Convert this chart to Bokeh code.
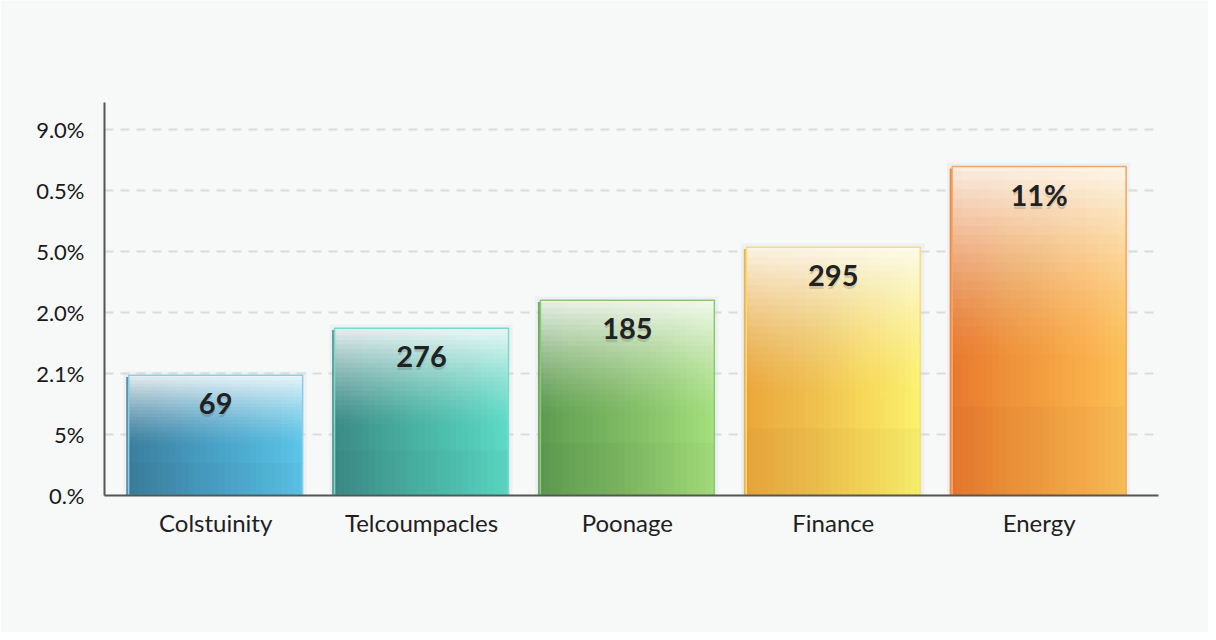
from bokeh.plotting import figure
from bokeh.models import Range1d, FixedTicker, ColumnDataSource
from bokeh.core.properties import value
from bokeh.embed import file_html
from bokeh.resources import INLINE

# ---- data ----
categories = ["Colstuinity", "Telcoumpacles", "Poonage", "Finance", "Energy"]
values = [1.97, 2.74, 3.20, 4.07, 5.39]
bar_labels = ["69", "276", "185", "295", "11%"]
y_ticks = [0, 1, 2, 3, 4, 5, 6]
y_tick_labels = ["0.%", "5%", "2.1%", "2.0%", "5.0%", "0.5%", "9.0%"]

# gradient colours per bar: (left/dark, right/light)
left_colors = ["#3b7d9c", "#3b8a84", "#5c9a50", "#eba53a", "#e8772e"]
right_colors = ["#5cc6ea", "#5edcc6", "#a6e07e", "#fbf36e", "#fcc257"]
edge_colors = ["#8ccde6", "#7ed8cc", "#8cc872", "#f7dc78", "#f5a860"]

BG = "#f7f8f8"
BAR_W = 0.845


def stacked_alphas(targets):
    """alphas for stacked layers so that the cumulative coverage follows targets"""
    out, prev = [], 0.0
    for f in targets:
        if f <= prev:
            out.append(0.0)
            continue
        out.append((f - prev) / (1.0 - prev))
        prev = f
    return out


p = figure(width=1208, height=632, output_backend="svg", toolbar_location=None,
           x_range=Range1d(-0.54, 4.58), y_range=Range1d(0, 6.44),
           min_border_left=104, min_border_right=50, min_border_top=102,
           min_border_bottom=137)
p.background_fill_color = BG
p.border_fill_color = BG
p.outline_line_color = None

# grid
p.xgrid.grid_line_color = None
p.ygrid.grid_line_color = "#dadada"
p.ygrid.grid_line_width = 2
p.ygrid.grid_line_dash = "9 7"
p.ygrid.ticker = FixedTicker(ticks=y_ticks[1:])

NX = 28
NY = 36
for i, v in enumerate(values):
    x0 = i - BAR_W / 2
    x1 = x0 + BAR_W
    # soft glow / shadow
    p.quad(left=[x0 - 0.025], right=[x1 + 0.02], bottom=[0], top=[v + 0.06],
           fill_color="#d5dcdf", fill_alpha=0.25, line_color=None)
    # base: left colour
    p.quad(left=[x0], right=[x1], bottom=[0], top=[v],
           fill_color=left_colors[i], line_color=None)
    # horizontal gradient: stacked layers of the right colour
    tx = [(k / NX) ** 0.85 for k in range(1, NX + 1)]
    ax = stacked_alphas(tx)
    lefts = [x0 + BAR_W * (k - 0.5) / NX for k in range(1, NX + 1)]
    p.quad(left=lefts, right=[x1] * NX, bottom=[0] * NX, top=[v] * NX,
           fill_color=right_colors[i], fill_alpha=ax, line_color=None)
    # subtle darker lower band
    p.quad(left=[x0], right=[x1], bottom=[0], top=[v * 0.27],
           fill_color="#000000", fill_alpha=0.025, line_color=None)
    # vertical whitening: stacked white layers from each level to the top
    ty = []
    for k in range(1, NY + 1):
        t = k / NY
        ty.append(0.0 if t < 0.4 else 0.88 * ((t - 0.4) / 0.6) ** 1.3)
    ay = stacked_alphas(ty)
    bots = [v * (k - 0.5) / NY for k in range(1, NY + 1)]
    p.quad(left=[x0] * NY, right=[x1] * NY, bottom=bots, top=[v] * NY,
           fill_color="#ffffff", fill_alpha=ay, line_color=None)
    # left edge (3D side)
    p.quad(left=[x0 - 0.012], right=[x0], bottom=[0], top=[v - 0.03],
           fill_color=left_colors[i], fill_alpha=0.85, line_color=None)
    # outline
    p.quad(left=[x0], right=[x1], bottom=[0], top=[v],
           fill_color=None, line_color=edge_colors[i], line_width=1.5)

# value labels
src = ColumnDataSource(dict(x=list(range(len(values))), y=values, t=bar_labels))
p.text(x="x", y="y", text="t", source=src, y_offset=31, text_align="center",
       text_baseline="middle", text_font=value("Lato"), text_font_size="29px",
       text_font_style="bold", text_color="#000000", text_alpha=0.12)
p.text(x="x", y="y", text="t", source=src, y_offset=28, text_align="center",
       text_baseline="middle", text_font=value("Lato"), text_font_size="29px",
       text_font_style="bold", text_color="#1f2222")

# axes
p.xaxis.ticker = FixedTicker(ticks=list(range(len(categories))))
p.xaxis.major_label_overrides = {i: c for i, c in enumerate(categories)}
p.xaxis.major_label_text_font = "Lato"
p.xaxis.major_label_text_font_size = "24px"
p.xaxis.major_label_text_color = "#1f1f1f"
p.xaxis.major_label_standoff = 6
p.xaxis.major_tick_line_color = None
p.xaxis.minor_tick_line_color = None
p.xaxis.axis_line_color = "#555555"
p.xaxis.axis_line_width = 2

p.yaxis.ticker = FixedTicker(ticks=y_ticks)
p.yaxis.major_label_overrides = {t: l for t, l in zip(y_ticks, y_tick_labels)}
p.yaxis.major_label_text_font = "Lato"
p.yaxis.major_label_text_font_size = "22px"
p.yaxis.major_label_text_color = "#1a1a1a"
p.yaxis.major_label_standoff = 14
p.yaxis.major_tick_line_color = None
p.yaxis.minor_tick_line_color = None
p.yaxis.axis_line_color = "#555555"
p.yaxis.axis_line_width = 2

open("out.html", "w").write(file_html(p, INLINE))
